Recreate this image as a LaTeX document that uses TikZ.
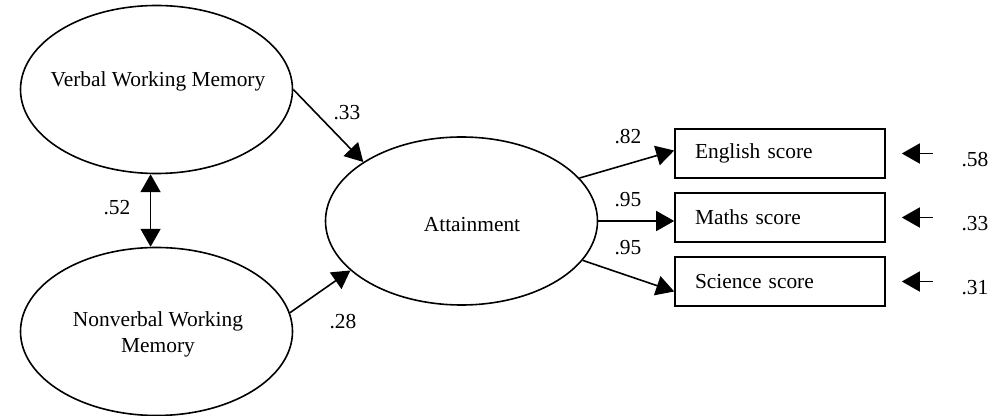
\documentclass[tikz,border=0pt]{standalone}
\usepackage{fontspec}
\setmainfont{Liberation Serif}
\usetikzlibrary{arrows.meta,shapes.geometric,calc}
\begin{document}
\begin{tikzpicture}[x=0.5pt,y=-0.5pt,
  every node/.style={font=\fontsize{10.7}{13}\selectfont},
  latent/.style={draw,ellipse,line width=0.8pt,minimum width=136pt,minimum height=84pt,inner sep=0pt},
  obs/.style={draw,rectangle,line width=0.8pt,minimum width=105pt,minimum height=24.5pt,inner xsep=10pt,text width=85pt,align=left},
  path/.style={line width=0.8pt,-{Triangle[length=9pt,width=10pt]}},
  coef/.style={inner sep=0pt}]
\path[use as bounding box] (0,0) rectangle (1002,416);
% latent variables
\node[latent] (vwm) at (156.5,89.5) {};
\node (vwmt) at (158,81) {Verbal Working Memory};
\node[latent] (nvwm) at (156.5,331.5) {};
\node[align=center] (nvwmt) at (158,334) {Nonverbal Working\\Memory};
\node[latent] (att) at (461.5,221) {};
\node (attt) at (472,225) {Attainment};
% observed
\node[obs] (eng) at (780,153.5) {English score};
\node[obs] (mat) at (780,217.5) {Maths score};
\node[obs] (sci) at (780,281.5) {Science score};
% paths
\draw[path] (vwm.east) -- (att.149);
\draw[path] (nvwm.8) -- (att.204);
\draw[line width=0.8pt,{Triangle[length=9pt,width=10pt]}-{Triangle[length=9pt,width=10pt]}] (vwm.266) -- (nvwm.94);
\draw[path] (att.20) -- ($(eng.west)+(0,-3)$);
\draw[path] (att.east) -- (att.east -| mat.west);
\draw[path] (att.-18) -- ($(sci.west)+(0,10)$);
% coefficients
\node[coef] (c33) at (347,113) {.33};
\node[coef] (c28) at (343,322) {.28};
\node[coef] (c52) at (117,208) {.52};
\node[coef] (c82) at (628,137) {.82};
\node[coef] (c95a) at (628,200) {.95};
\node[coef] (c95b) at (628,248) {.95};
% error terms
\node[coef] (e58) at (975,160) {.58};
\node[coef] (e33) at (975,224) {.33};
\node[coef] (e31) at (975,288) {.31};
\coordinate (t1) at (933,153.5);
\coordinate (t2) at (933,217.5);
\coordinate (t3) at (933,281.5);
\draw[path] (t1) -- ($(eng.east)+(16,0)$);
\draw[path] (t2) -- ($(mat.east)+(16,0)$);
\draw[path] (t3) -- ($(sci.east)+(16,0)$);
\end{tikzpicture}
\end{document}
